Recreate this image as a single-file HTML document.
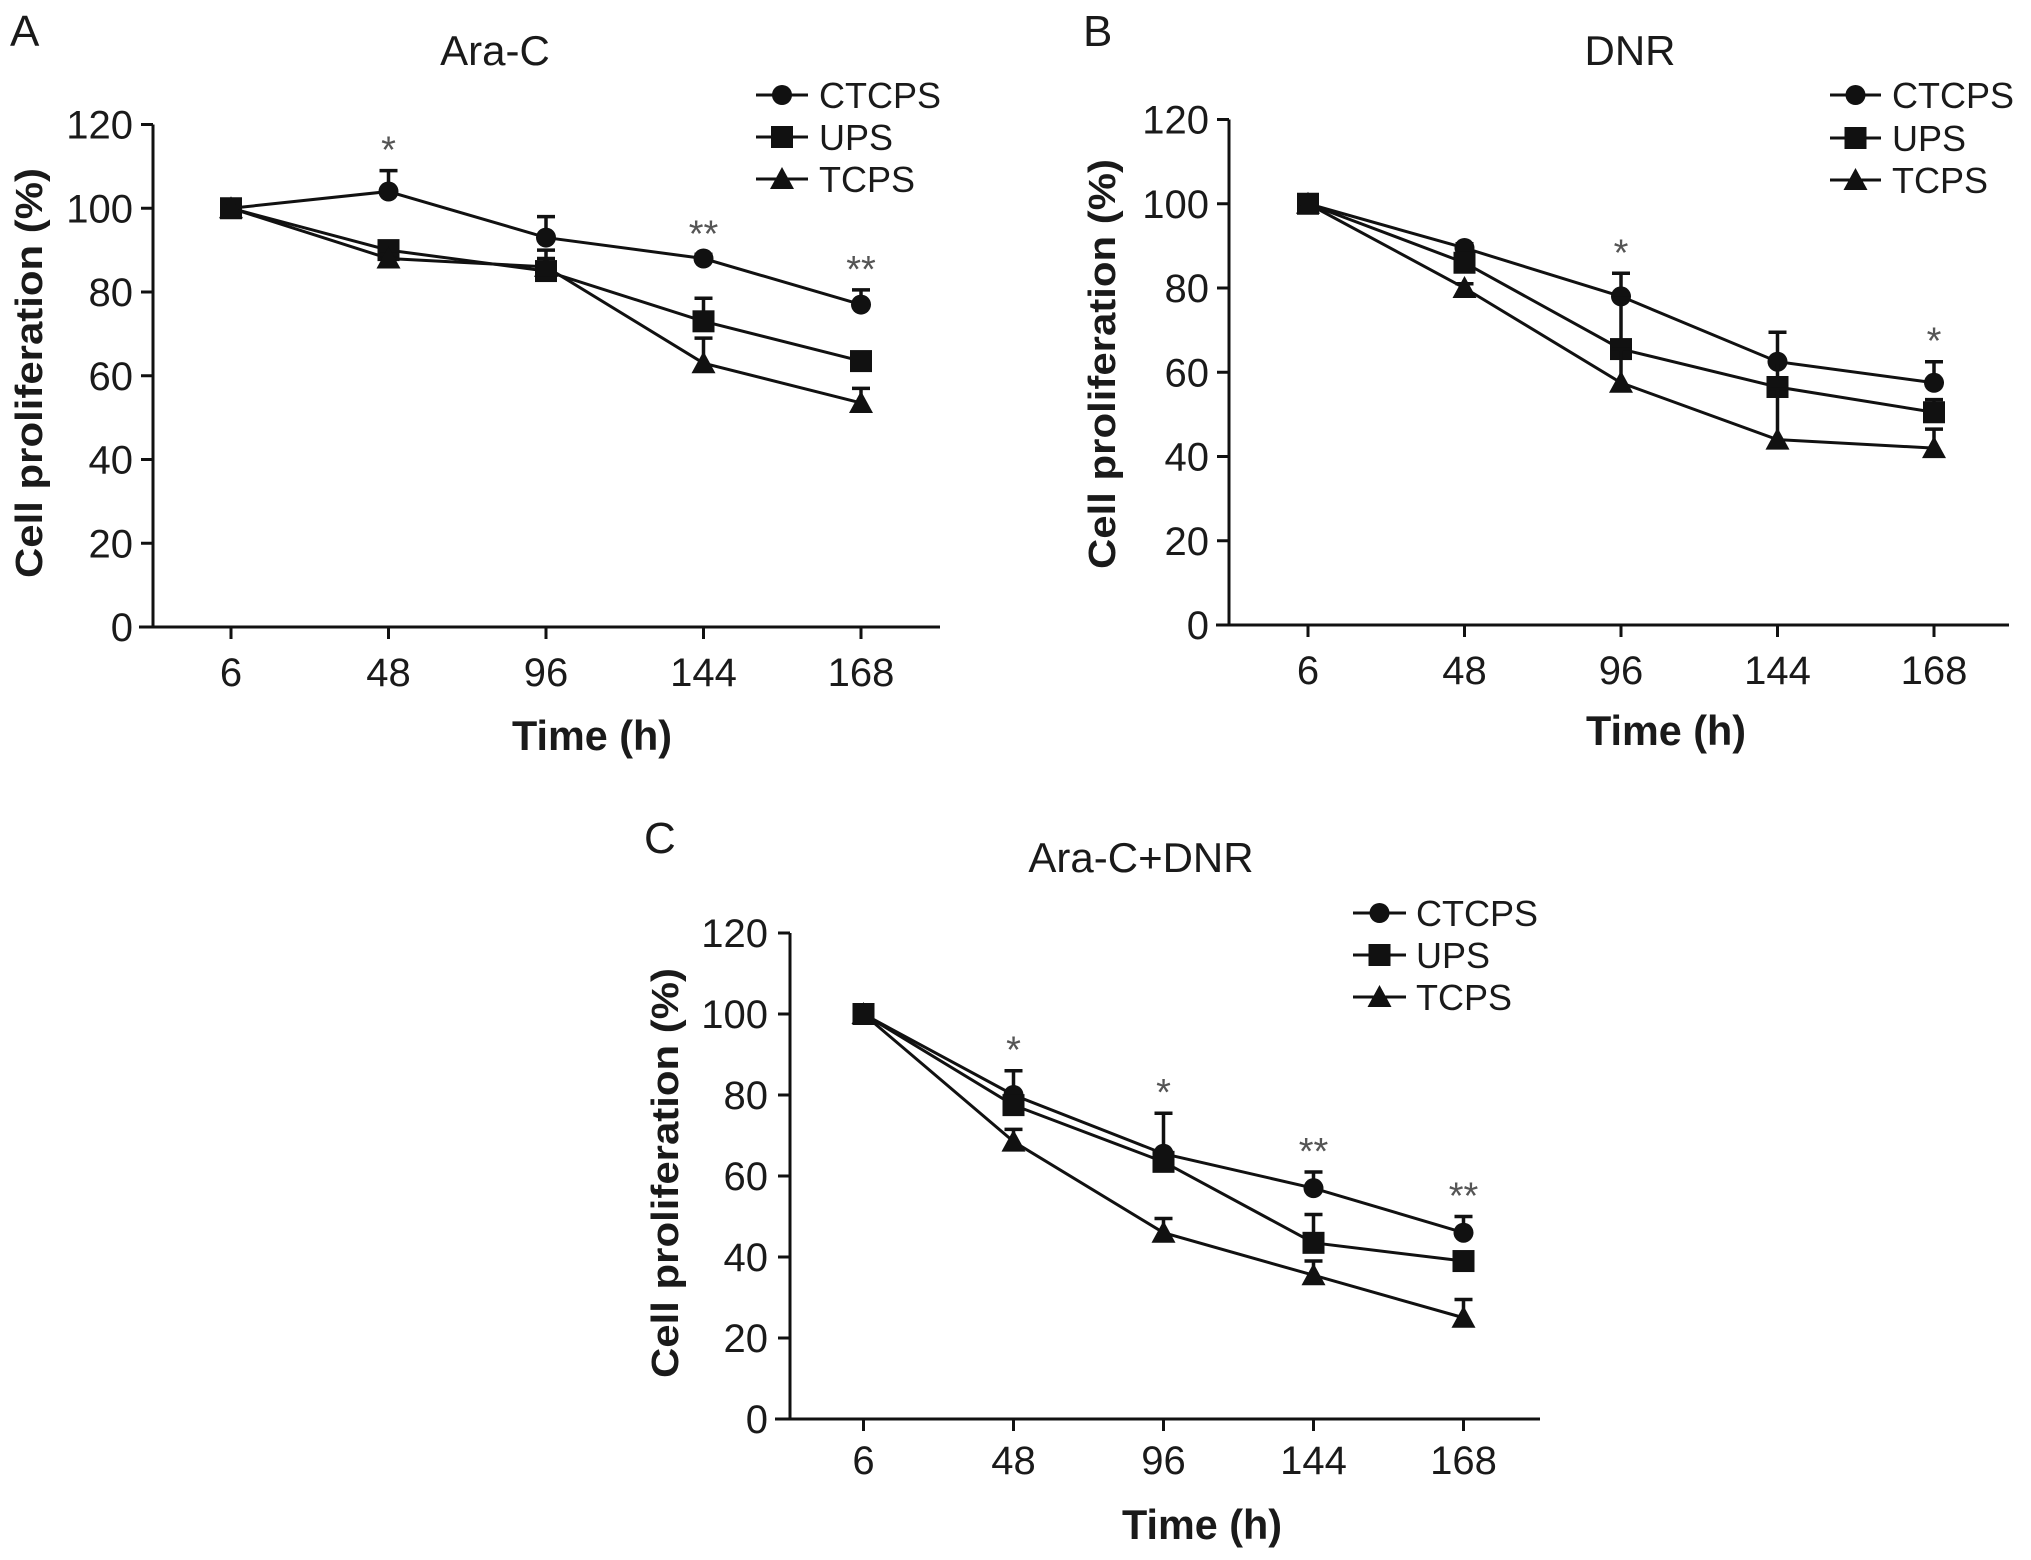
<!DOCTYPE html>
<html><head><meta charset="utf-8"><style>
html,body{margin:0;padding:0;background:#fff}
svg{display:block}
text{font-family:"Liberation Sans",Arial,sans-serif;fill:#1a1a1a}
</style></head><body>
<svg id="fig" width="2031" height="1560" viewBox="0 0 2031 1560" xmlns="http://www.w3.org/2000/svg"></svg>
<script>
const categories = ["6","48","96","144","168"];
const yTicks = [0,20,40,60,80,100,120];
const seriesNames = ["CTCPS","UPS","TCPS"];
// Panel A (Ara-C)
const aCTCPS = [100,104,93,88,77];
const aUPS = [100,90,85,73,63.5];
const aTCPS = [100,88,86,63,53.5];
const aErrCTCPS = [0,5,5,1,3.5];
const aErrUPS = [0,2,3,5.5,1];
const aErrTCPS = [0,1,4,6,3.5];
const aStars = ["","*","","**","**"];
// Panel B (DNR)
const bCTCPS = [100,89.5,78,62.5,57.5];
const bUPS = [100,86,65.5,56.5,50.5];
const bTCPS = [100,80,57.5,44,42];
const bErrCTCPS = [0,1,5.5,7,5];
const bErrUPS = [0,2,12,6,3];
const bErrTCPS = [0,1,8,12,4.5];
const bStars = ["","","*","","*"];
// Panel C (Ara-C+DNR)
const cCTCPS = [100,80,65.5,57,46];
const cUPS = [100,77.5,63.5,43.5,39];
const cTCPS = [100,68.5,46,35.5,25];
const cErrCTCPS = [0,6,10,4,4];
const cErrUPS = [0,2,2,7,1];
const cErrTCPS = [0,3,3.5,3.5,4.5];
const cStars = ["","*","*","**","**"];

const NS="http://www.w3.org/2000/svg";
const svg=document.getElementById('fig');
function el(tag,attrs,parent,txt){const e=document.createElementNS(NS,tag);for(const k in attrs)e.setAttribute(k,attrs[k]);if(txt!==undefined)e.textContent=txt;(parent||svg).appendChild(e);return e;}

function marker(g,kind,x,y){
  let m;
  if(kind===0){m=el('circle',{cx:x,cy:y,r:10,fill:'#111'},g);}
  else if(kind===1){m=el('rect',{x:x-11,y:y-11,width:22,height:22,fill:'#111'},g);}
  else {m=el('polygon',{points:`${x},${y-12} ${x+12},${y+10} ${x-12},${y+10}`,fill:'#111'},g);}
  return m;
}

function panel(cfg){
  const g=el('g',{});
  
  
  const y=v=>cfg.y0-(v/120)*(cfg.y0-cfg.y120);
  const x=i=>cfg.xs+i*cfg.dx;
  const ax=el('g',{},g);
  
  
  el('line',{x1:cfg.ax,y1:cfg.y0,x2:cfg.ax,y2:cfg.y120,stroke:'#111','stroke-width':3},ax);
  el('line',{x1:cfg.xa0,y1:cfg.y0,x2:cfg.xa1,y2:cfg.y0,stroke:'#111','stroke-width':3},ax);
  yTicks.forEach(t=>{
    el('line',{x1:cfg.ax-12,y1:y(t),x2:cfg.ax,y2:y(t),stroke:'#111','stroke-width':3},ax);
    const tl=el('text',{x:cfg.ylab,y:y(t)+14,'text-anchor':'end','font-size':40},ax,String(t));
    
    
  });
  categories.forEach((c,i)=>{
    el('line',{x1:x(i),y1:cfg.y0,x2:x(i),y2:cfg.y0+12,stroke:'#111','stroke-width':3},ax);
    const tl=el('text',{x:x(i),y:cfg.xlab+14,'text-anchor':'middle','font-size':40},ax,c);
    
    
  });
  const yt=el('text',{x:0,y:0,'text-anchor':'middle','font-size':38,'font-weight':'bold',transform:`translate(${cfg.ytx+13},${cfg.yty}) rotate(-90)`,textLength:410,lengthAdjust:'spacingAndGlyphs'},g,'Cell proliferation (%)');
  
  
  const xt=el('text',{x:cfg.xtx,y:cfg.xty+15,'text-anchor':'middle','font-size':42,'font-weight':'bold',textLength:160,lengthAdjust:'spacingAndGlyphs'},g,'Time (h)');
  
  
  const ti=el('text',{x:cfg.tx,y:cfg.ty+15,'text-anchor':'middle','font-size':42},g,cfg.title);
  
  
  const lt=el('text',{x:cfg.lx,y:cfg.ty-20+16,'font-size':44},g,cfg.letter);
  
  
  cfg.series.forEach((vals,s)=>{
    const sg=el('g',{},g);
    
    
    const pts=vals.map((v,i)=>x(i)+','+y(v)).join(' ');
    const pl=el('polyline',{points:pts,fill:'none',stroke:'#111','stroke-width':3},sg);
    
    
    vals.forEach((v,i)=>{
      const e=cfg.errs[s][i];
      if(e>0){
        const eb=el('path',{d:`M${x(i)},${y(v)} V${y(v+e)} M${x(i)-9},${y(v+e)} H${x(i)+9}`,stroke:'#111','stroke-width':3.5,fill:'none'},sg);
        
        
      }
      const m=marker(sg,s,x(i),y(v));
      
      
    });
  });
  cfg.stars.forEach((st,i)=>{
    if(!st)return;
    let top=0;cfg.series.forEach((vals,s)=>{top=Math.max(top,vals[i]+cfg.errs[s][i]);});
    const t=el('text',{x:x(i),y:y(top)-8,'text-anchor':'middle','font-size':38,style:'fill:#555'},g,st);
    
    
  });
  const lg=el('g',{},g);
  
  
  seriesNames.forEach((n,s)=>{
    const ry=cfg.legRows[s];
    const le=el('g',{},lg);
    
    
    el('line',{x1:cfg.legX0,y1:ry,x2:cfg.legX1,y2:ry,stroke:'#111','stroke-width':3},le);
    marker(le,s,(cfg.legX0+cfg.legX1)/2,ry);
    el('text',{x:cfg.legT,y:ry+13,'font-size':36},le,n);
  });
}

panel({letter:'A',title:'Ara-C',ax:153,xa0:139,xa1:940,y0:627,y120:124.5,xs:231,dx:157.5,
  ylab:133,xlab:672,ytx:29,yty:373,xtx:592,xty:735,tx:495,ty:50,lx:10,
  legX0:756,legX1:808,legT:819,legRows:[95,137,179],
  series:[aCTCPS,aUPS,aTCPS],errs:[aErrCTCPS,aErrUPS,aErrTCPS],stars:aStars});
panel({letter:'B',title:'DNR',ax:1229,xa0:1216,xa1:2009,y0:625,y120:119.5,xs:1308,dx:156.5,
  ylab:1209,xlab:670,ytx:1102,yty:364,xtx:1666,xty:730,tx:1630,ty:50,lx:1083,
  legX0:1830,legX1:1881,legT:1892,legRows:[95,138,180],
  series:[bCTCPS,bUPS,bTCPS],errs:[bErrCTCPS,bErrUPS,bErrTCPS],stars:bStars});
panel({letter:'C',title:'Ara-C+DNR',ax:790,xa0:775,xa1:1540,y0:1419,y120:933,xs:863.5,dx:150,
  ylab:768,xlab:1460,ytx:665,yty:1173,xtx:1202,xty:1524,tx:1141,ty:857,lx:644,
  legX0:1353,legX1:1406,legT:1416,legRows:[913,955,997],
  series:[cCTCPS,cUPS,cTCPS],errs:[cErrCTCPS,cErrUPS,cErrTCPS],stars:cStars});
</script>
</body></html>
